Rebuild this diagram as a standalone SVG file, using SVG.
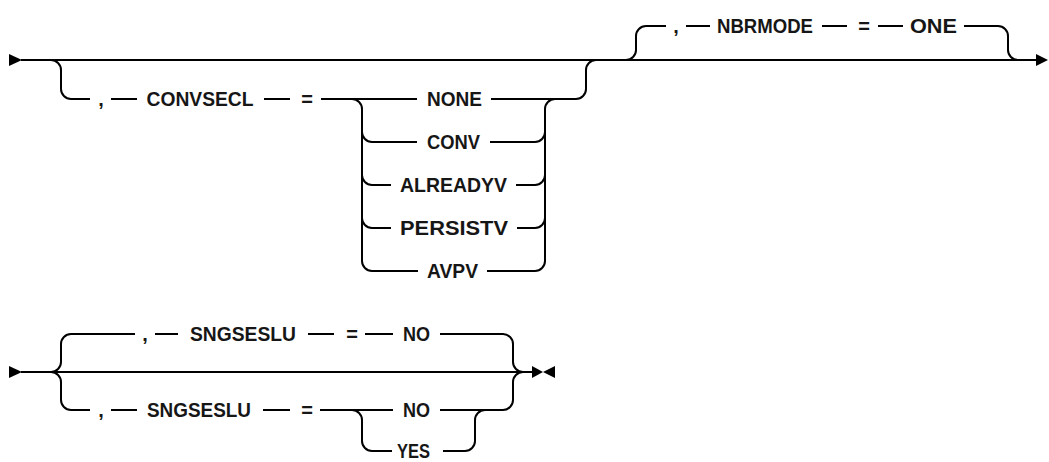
<svg xmlns="http://www.w3.org/2000/svg" width="1049" height="462" viewBox="0 0 1049 462">
<style>
.c{fill:none;stroke:#000;stroke-width:2}
.t{font-family:"Liberation Sans",Arial,sans-serif;font-size:20px;font-weight:bold;fill:#161616;text-anchor:middle}
.a{fill:#000}
</style>
<rect width="1049" height="462" fill="#fff"/>
<g id="connectors">
<path class="c" d="M21,60 H1038"/>
<path class="c" d="M51,60 A10 10 0 0 1 61,70 V89 A10 10 0 0 0 71,99 H90 M111,99 H137 M264,99 H290 M321,99 H417 M491,99 H576 A10 10 0 0 0 586,89 V70 A10 10 0 0 1 596,60"/>
<path class="c" d="M352,99 A10 10 0 0 1 362,109 V261 A10 10 0 0 0 372,271 M362,132 A10 10 0 0 0 372,142 M362,175 A10 10 0 0 0 372,185 M362,218 A10 10 0 0 0 372,228"/>
<path class="c" d="M372,142 H417 M490,142 H535 M372,185 H391 M516,185 H535 M372,228 H391 M517,228 H535 M372,271 H418 M487,271 H535"/>
<path class="c" d="M535,142 A10 10 0 0 0 545,132 M535,185 A10 10 0 0 0 545,175 M535,228 A10 10 0 0 0 545,218 M535,271 A10 10 0 0 0 545,261 V109 A10 10 0 0 1 555,99"/>
<path class="c" d="M626,60 A10 10 0 0 0 636,50 V36 A10 10 0 0 1 646,26 H666 M686,26 H710 M822,26 H847 M878,26 H903 M964,26 H998 A10 10 0 0 1 1008,36 V50 A10 10 0 0 0 1018,60"/>
<polygon class="a" points="9,54 22,60 9,66"/>
<polygon class="a" points="1036,54 1048,60 1036,66"/>
<path class="c" d="M21,372 H533"/>
<path class="c" d="M51,372 A10 10 0 0 0 61,362 V344 A10 10 0 0 1 71,334 H135 M155,334 H178 M308,334 H334 M365,334 H393 M440,334 H503 A10 10 0 0 1 513,344 V362 A10 10 0 0 0 523,372"/>
<path class="c" d="M51,372 A10 10 0 0 1 61,382 V400 A10 10 0 0 0 71,410 H90 M111,410 H137 M263,410 H290 M320,410 H393 M440,410 H503 A10 10 0 0 0 513,400 V382 A10 10 0 0 1 523,372"/>
<path class="c" d="M352,410 A10 10 0 0 1 362,420 V441 A10 10 0 0 0 372,451 H392 M443,451 H465 A10 10 0 0 0 475,441 V420 A10 10 0 0 1 485,410"/>
<polygon class="a" points="9,366 22,372 9,378"/>
<polygon class="a" points="532,366 543,372 532,378"/>
<polygon class="a" points="555,366 543,372 555,378"/>
</g>
<g id="n-comma1"><text class="t" x="101" y="106">,</text></g>
<g id="n-convsecl"><text class="t" x="200" y="106" textLength="107" lengthAdjust="spacingAndGlyphs">CONVSECL</text></g>
<g id="n-eq1"><text class="t" x="307" y="106">=</text></g>
<g id="n-none"><text class="t" x="454.5" y="106" textLength="55" lengthAdjust="spacingAndGlyphs">NONE</text></g>
<g id="n-conv"><text class="t" x="453.5" y="149" textLength="53" lengthAdjust="spacingAndGlyphs">CONV</text></g>
<g id="n-alreadyv"><text class="t" x="453.5" y="192" textLength="107" lengthAdjust="spacingAndGlyphs">ALREADYV</text></g>
<g id="n-persistv"><text class="t" x="454" y="235" textLength="108" lengthAdjust="spacingAndGlyphs">PERSISTV</text></g>
<g id="n-avpv"><text class="t" x="452.5" y="278" textLength="51" lengthAdjust="spacingAndGlyphs">AVPV</text></g>
<g id="n-comma2"><text class="t" x="676" y="33">,</text></g>
<g id="n-nbrmode"><text class="t" x="765" y="33" textLength="96" lengthAdjust="spacingAndGlyphs">NBRMODE</text></g>
<g id="n-eq2"><text class="t" x="864" y="33">=</text></g>
<g id="n-one"><text class="t" x="933.5" y="33" textLength="47" lengthAdjust="spacingAndGlyphs">ONE</text></g>
<g id="n-comma3"><text class="t" x="145" y="341">,</text></g>
<g id="n-sngseslu1"><text class="t" x="243" y="341" textLength="106" lengthAdjust="spacingAndGlyphs">SNGSESLU</text></g>
<g id="n-eq3"><text class="t" x="352" y="341">=</text></g>
<g id="n-no1"><text class="t" x="416.5" y="341" textLength="27" lengthAdjust="spacingAndGlyphs">NO</text></g>
<g id="n-comma4"><text class="t" x="101" y="417">,</text></g>
<g id="n-sngseslu2"><text class="t" x="199" y="417" textLength="104" lengthAdjust="spacingAndGlyphs">SNGSESLU</text></g>
<g id="n-eq4"><text class="t" x="307" y="417">=</text></g>
<g id="n-no2"><text class="t" x="416.5" y="417" textLength="27" lengthAdjust="spacingAndGlyphs">NO</text></g>
<g id="n-yes"><text class="t" x="413.5" y="458" textLength="33" lengthAdjust="spacingAndGlyphs">YES</text></g>
</svg>
